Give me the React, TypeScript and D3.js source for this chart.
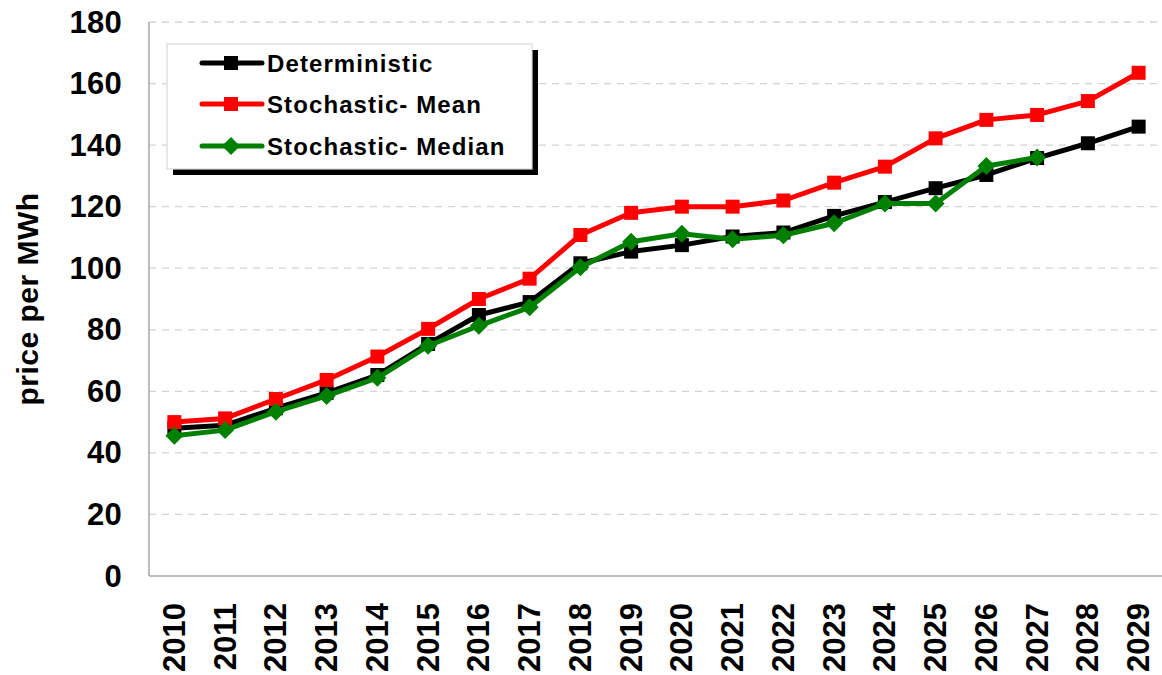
import React from "react";
import * as d3 from "d3";

const years = ["2010","2011","2012","2013","2014","2015","2016","2017","2018","2019","2020","2021","2022","2023","2024","2025","2026","2027","2028","2029"];
const deterministic = [48, 49, 54.5, 59.5, 65.3, 75.4, 84.8, 89, 101.6, 105.4, 107.5, 110.3, 111.6, 117, 121.5, 126, 130.3, 135.8, 140.6, 146];
const stochMean = [50, 51.2, 57.5, 63.7, 71.3, 80.3, 90, 96.6, 110.8, 118, 120, 120, 122, 127.8, 133, 142.2, 148.2, 149.8, 154.3, 163.5];
const stochMedian: (number | null)[] = [45.6, 47.4, 53.4, 58.5, 64.4, 74.8, 81.3, 87.3, 100.3, 108.6, 111.2, 109.4, 110.7, 114.6, 121, 121, 133.2, 136, null, null];
const yTicks = [0, 20, 40, 60, 80, 100, 120, 140, 160, 180];

const W = 1162, H = 675;
const left = 149, right = 1164, top = 22, bottom = 576;
const FONT = "'Liberation Sans', Arial, sans-serif";

const series = [
  { name: "Deterministic", values: deterministic as (number | null)[], color: "#000000", marker: "square" },
  { name: "Stochastic- Mean", values: stochMean as (number | null)[], color: "#ff0000", marker: "square" },
  { name: "Stochastic- Median", values: stochMedian, color: "#008000", marker: "diamond" },
];

function Marker({ x, y, type, color }: { x: number; y: number; type: string; color: string }) {
  if (type === "square") {
    const s = 14;
    return <rect x={x - s / 2} y={y - s / 2} width={s} height={s} fill={color} />;
  }
  const r = 9;
  return <path d={`M${x},${y - r}L${x + r},${y}L${x},${y + r}L${x - r},${y}Z`} fill={color} />;
}

export default function App() {
  const x = d3.scaleBand<string>().domain(years).range([left, right]);
  const y = d3.scaleLinear().domain([0, 180]).range([bottom, top]);
  const cx = (yr: string) => (x(yr) as number) + x.bandwidth() / 2;

  const line = d3
    .line<number | null>()
    .defined((d) => d != null)
    .x((_, i) => cx(years[i]))
    .y((d) => y(d as number));

  const legX = 167, legY = 44, legW = 365, legH = 125;
  const rows = [63, 104, 146];

  return (
    <svg width={W} height={H} style={{ position: "absolute", left: 0, top: 0, background: "#fff" }}>
      <rect x={0} y={0} width={W} height={H} fill="#fff" />
      {yTicks.filter((t) => t > 0).map((t) => (
        <line key={t} x1={left} x2={W} y1={y(t)} y2={y(t)} stroke="#d4d4d4" strokeWidth={1.3} strokeDasharray="7,6" />
      ))}
      <line x1={left} x2={left} y1={top} y2={bottom} stroke="#a6a6a6" strokeWidth={1.5} />
      <line x1={left} x2={W} y1={bottom} y2={bottom} stroke="#a6a6a6" strokeWidth={1.5} />

      {yTicks.map((t) => (
        <text key={t} x={122} y={y(t)} textAnchor="end" dominantBaseline="central" fontFamily={FONT} fontWeight="bold" fontSize={31} letterSpacing={0.3}>
          {t}
        </text>
      ))}
      {years.map((yr) => (
        <text
          key={yr}
          transform={`translate(${cx(yr)},603) rotate(-90)`}
          textAnchor="end"
          dominantBaseline="central"
          fontFamily={FONT}
          fontWeight="bold"
          fontSize={31}
        >
          {yr}
        </text>
      ))}
      <text
        transform={`translate(27,299) rotate(-90)`}
        textAnchor="middle"
        dominantBaseline="central"
        fontFamily={FONT}
        fontWeight="bold"
        fontSize={30}
        letterSpacing={0.5}
      >
        price per MWh
      </text>

      {series.map((s) => (
        <g key={s.name}>
          <path d={line(s.values) || ""} fill="none" stroke={s.color} strokeWidth={5} strokeLinejoin="round" />
          {s.values.map((v, i) =>
            v == null ? null : <Marker key={i} x={cx(years[i])} y={y(v)} type={s.marker} color={s.color} />
          )}
        </g>
      ))}

      <rect x={legX + 6} y={legY + 6} width={legW} height={legH} fill="#000" />
      <rect x={legX} y={legY} width={legW} height={legH} fill="#fff" stroke="#d9d9d9" strokeWidth={1.2} />
      {series.map((s, i) => (
        <g key={s.name}>
          <line x1={202} x2={262} y1={rows[i]} y2={rows[i]} stroke={s.color} strokeWidth={5} strokeLinecap="round" />
          <Marker x={231} y={rows[i]} type={s.marker} color={s.color} />
          <text x={267} y={rows[i]} dominantBaseline="central" fontFamily={FONT} fontWeight="bold" fontSize={24} letterSpacing={1.1}>
            {s.name}
          </text>
        </g>
      ))}
    </svg>
  );
}
